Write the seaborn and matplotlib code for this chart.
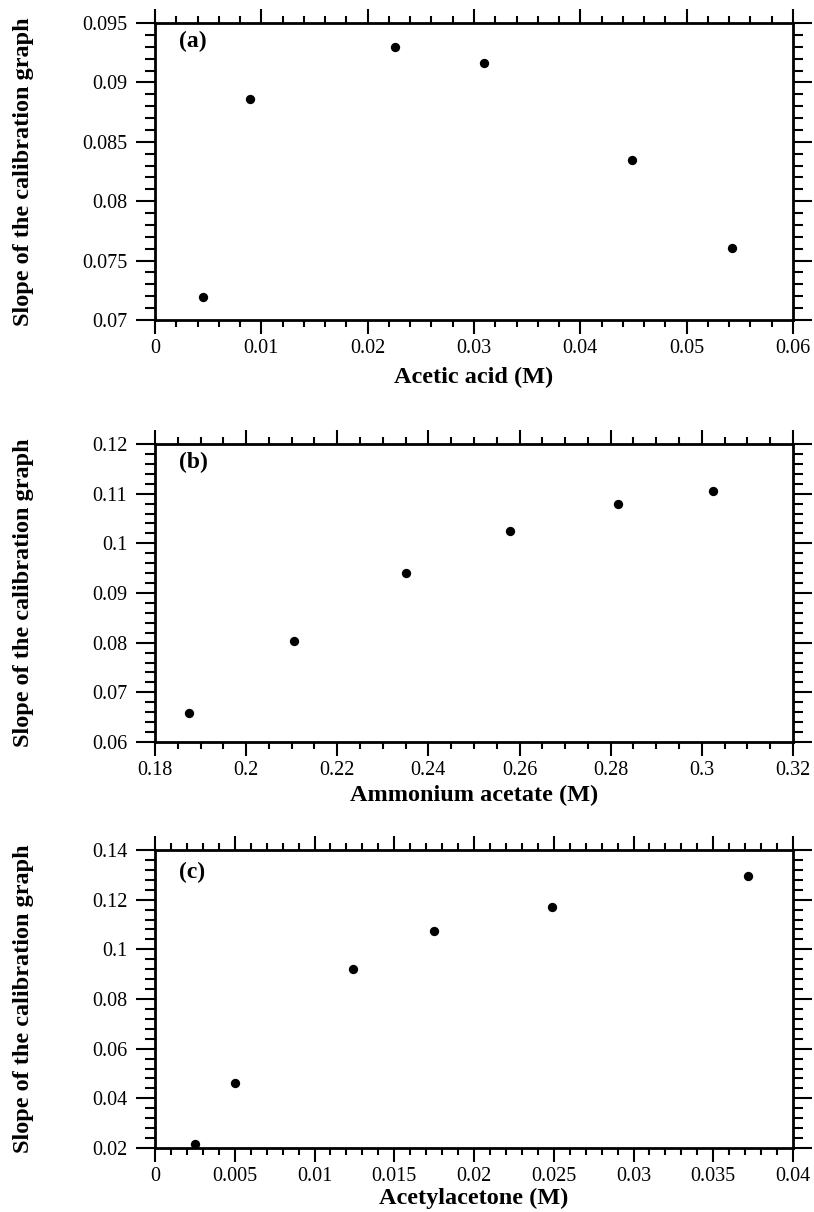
import matplotlib
matplotlib.use("Agg")
import matplotlib.pyplot as plt
import seaborn as sns
import pandas as pd
from matplotlib.ticker import MultipleLocator, AutoMinorLocator, FuncFormatter

# panel (a)
acetic_x = [0.0045, 0.0089, 0.0226, 0.0309, 0.0449, 0.0543]
acetic_y = [0.0719, 0.0886, 0.0930, 0.0916, 0.0835, 0.0761]
# panel (b)
ammonium_x = [0.1875, 0.2105, 0.2350, 0.2580, 0.2815, 0.3025]
ammonium_y = [0.0658, 0.0803, 0.0941, 0.1025, 0.1080, 0.1105]
# panel (c)
acac_x = [0.0025, 0.0050, 0.0124, 0.0175, 0.0249, 0.0372]
acac_y = [0.0218, 0.0460, 0.0920, 0.1075, 0.1170, 0.1295]

xlabels = ["Acetic acid (M)", "Ammonium acetate (M)", "Acetylacetone (M)"]
panel_tags = ["(a)", "(b)", "(c)"]
ylabel = "Slope of the calibration graph"

sns.set_style("white")
plt.rcParams["font.family"] = ["Liberation Serif", "DejaVu Serif"]
plt.rcParams["text.color"] = "black"
plt.rcParams["axes.labelcolor"] = "black"
plt.rcParams["xtick.color"] = "black"
plt.rcParams["ytick.color"] = "black"


def fmt(v, pos):
    s = f"{v:.3f}".rstrip("0").rstrip(".")
    return "0" if s in ("-0", "0") else s


panels = [
    (acetic_x, acetic_y, (0, 0.06), 0.01, 5, (0.07, 0.095), 0.005, 5),
    (ammonium_x, ammonium_y, (0.18, 0.32), 0.02, 4, (0.06, 0.12), 0.01, 5),
    (acac_x, acac_y, (0, 0.04), 0.005, 5, (0.02, 0.14), 0.02, 5),
]

fig = plt.figure(figsize=(8.14, 12.12), dpi=100)
W, H = 814, 1212
tops = [23, 444, 850]
bottoms = [320, 742, 1148]
xlab_off = [57, 53, 50]
tag_off = [18, 18, 22]
left, right = 155, 793

for i, (xs, ys, xlim, xmaj, xsub, ylim, ymaj, ysub) in enumerate(panels):
    h = bottoms[i] - tops[i]
    ax = fig.add_axes([left / W, 1 - bottoms[i] / H, (right - left) / W, h / H])
    df = pd.DataFrame({"x": xs, "y": ys})
    sns.scatterplot(data=df, x="x", y="y", ax=ax, color="black", s=45, edgecolor="black", linewidth=0, zorder=3)
    ax.set_xlim(*xlim)
    ax.set_ylim(*ylim)
    for sp in ax.spines.values():
        sp.set_linewidth(2)
        sp.set_color("black")
    ax.xaxis.set_major_locator(MultipleLocator(xmaj))
    ax.xaxis.set_minor_locator(AutoMinorLocator(xsub))
    ax.yaxis.set_major_locator(MultipleLocator(ymaj))
    ax.yaxis.set_minor_locator(AutoMinorLocator(ysub))
    ax.xaxis.set_major_formatter(FuncFormatter(fmt))
    ax.yaxis.set_major_formatter(FuncFormatter(fmt))
    ax.tick_params(which="both", direction="out", bottom=True, top=True, left=True, right=True,
                   colors="black", labelcolor="black", width=1.5)
    ax.tick_params(axis="x", which="major", length=10, labelsize=14.5, pad=4)
    ax.tick_params(axis="x", which="minor", length=5)
    ax.tick_params(axis="y", which="major", length=14, labelsize=14.5, pad=6)
    ax.tick_params(axis="y", which="minor", length=7)

    ax.set_xlabel(xlabels[i], fontsize=17.5, fontweight="bold", va="center", color="black")
    ax.xaxis.set_label_coords(0.5, -xlab_off[i] / h)
    ax.set_ylabel(ylabel, fontsize=17.5, fontweight="bold", va="center", color="black")
    ax.yaxis.set_label_coords((24 - left) / (right - left), 0.5)
    ax.text(0.037, 1 - tag_off[i] / h, panel_tags[i], transform=ax.transAxes, fontsize=17,
            fontweight="bold", va="center", ha="left", color="black")

fig.savefig("out.png", dpi=100)
